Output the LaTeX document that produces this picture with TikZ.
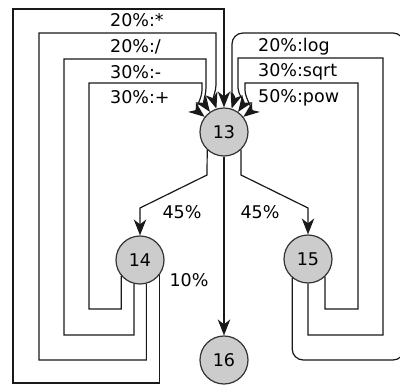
\documentclass[tikz,border=0pt]{standalone}
\usepackage{fontspec}
\setmainfont{DejaVu Sans}
\usetikzlibrary{arrows.meta,calc}
\begin{document}
\begin{tikzpicture}[x=1pt,y=-1pt,
  st/.style={circle,draw=black!80,fill=black!20,line width=1.2pt,minimum size=48pt,inner sep=0pt,font=\fontsize{17.5}{20}\selectfont},
  lbl/.style={font=\fontsize{17.5}{20}\selectfont,inner sep=0pt},
  ed/.style={line width=1.2pt,draw=black!90},
  arr/.style={ed,-{Stealth[length=16pt,width=12.5pt,inset=5pt]}}]
\useasboundingbox (0,0) rectangle (400,385);
\clip (0,0) rectangle (400,385);
\node[st] (n13) at (224,132) {13};
\node[st] (n14) at (140,260) {14};
\node[st] (n15) at (308,259) {15};
\node[st] (n16) at (224,360) {16};
% left self-loops from 14 to 13
\draw[arr] (n14.-140.6) |- (89,309) |- (202,83) -- (202,90)
  .. controls (202,98) and ($(n13.center)!1.5!(n13.142)$) .. (n13.142);
\draw[arr] (n14.-104.1) |- (64,335) |- (206,59) -- (206,88)
  .. controls (206,95) and ($(n13.center)!1.5!(n13.125)$) .. (n13.125);
\draw[arr] (n14.-75.9) |- (39,360) |- (216,33) -- (216,85)
  .. controls (216,90) and ($(n13.center)!1.45!(n13.108)$) .. (n13.108);
\draw[arr] (n14.-39.4) |- (13,383) |- (224,9) -- (n13);
% right loops from 15 to 13
\draw[arr] (n15.-46.3) |- (358,309) |- (245,83) -- (245,90)
  .. controls (245,98) and ($(n13.center)!1.5!(n13.38)$) .. (n13.38);
\draw[arr] (n15.south) |- (383,335) |- (238,58) -- (238,88)
  .. controls (238,95) and ($(n13.center)!1.5!(n13.55)$) .. (n13.55);
\draw[arr,rounded corners=11pt] (n15.-130.6) |- (404,360) |- (232,33) -- (232,85)
  .. controls (232,90) and ($(n13.center)!1.45!(n13.72)$) .. (n13.72);
% edges out of 13
\draw[arr] (n13.-133.7) -- (207,175) -- (140,208) -- (n14);
\draw[arr] (n13.-46.3) -- (241,175) -- (308,208) -- (n15);
\draw[arr] (n13) -- (n16);
% labels
\node[lbl,anchor=west] (a1) at (110,20) {20\%:*};
\node[lbl,anchor=west] (a2) at (110,47) {20\%:/};
\node[lbl,anchor=west] (a3) at (110,72) {30\%:-};
\node[lbl,anchor=west] (a4) at (110,97) {30\%:+};
\node[lbl,anchor=west] (b1) at (258,47) {20\%:log};
\node[lbl,anchor=west] (b2) at (258,72) {30\%:sqrt};
\node[lbl,anchor=west] (b3) at (258,98) {50\%:pow};
\node[lbl] (c1) at (182,212) {45\%};
\node[lbl] (c2) at (260,212) {45\%};
\node[lbl] (c3) at (189,280) {10\%};
\end{tikzpicture}
\end{document}
